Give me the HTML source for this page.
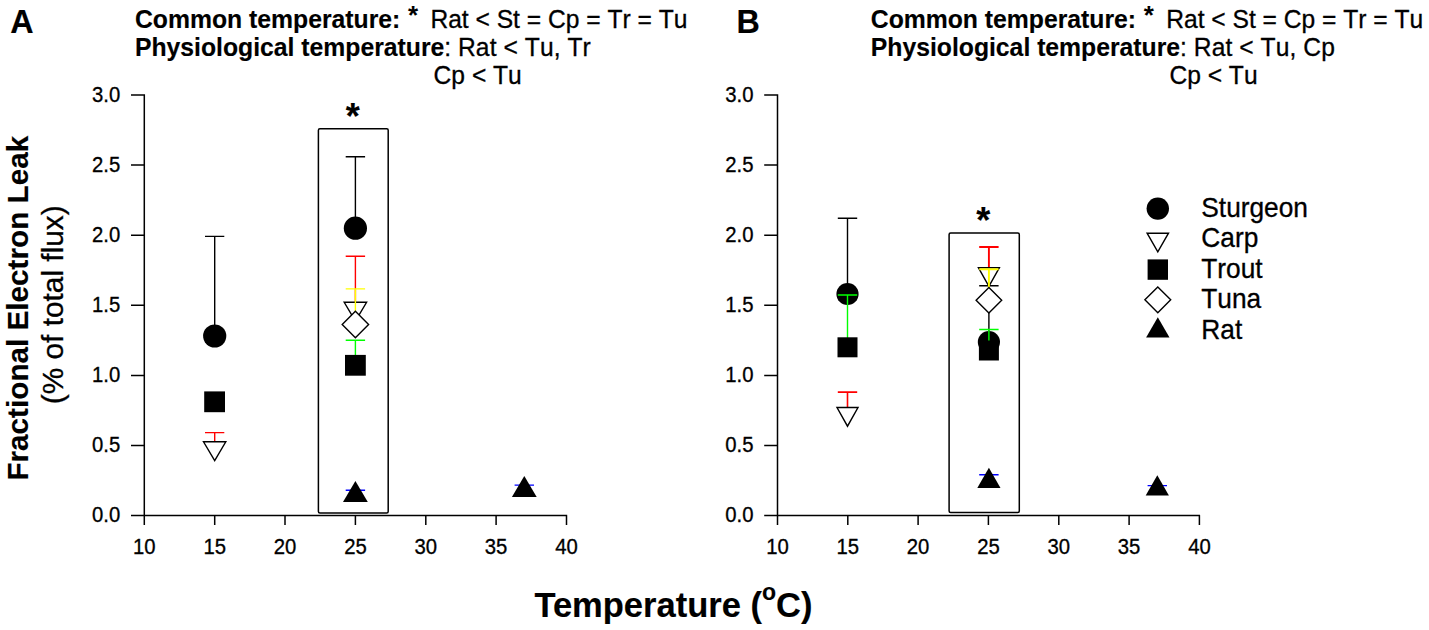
<!DOCTYPE html>
<html lang="en"><head><meta charset="utf-8"><title>Fractional Electron Leak vs Temperature</title>
<style>
html,body{margin:0;padding:0;background:#fff;}
body{width:1429px;height:630px;overflow:hidden;}
svg{display:block;font-family:"Liberation Sans", sans-serif;fill:#000;}
svg text{white-space:pre;font-kerning:none;stroke:#000;stroke-width:0.3px;}
.b,.b tspan{stroke-width:0.15px;}
.b{font-weight:bold;}
</style></head><body>
<svg width="1429" height="630" viewBox="0 0 1429 630">
<rect width="1429" height="630" fill="#fff"/>
<!-- panel headers -->
<text class="b" transform="translate(10.3 32.8)" font-size="32.3">A</text>
<text class="b" transform="translate(135.0 27.6) scale(1 1.03)" font-size="24.75">Common temperature:</text>
<text class="b" style="stroke-width:0" transform="translate(407.9 24.3)" font-size="26">*</text>
<text transform="translate(430.4 27.6) scale(1 1.05)" font-size="24.6">Rat &lt; St = Cp = Tr = Tu</text>
<text class="b" transform="translate(135.0 56.1) scale(1 1.03)" font-size="24.75">Physiological temperature</text>
<text style="letter-spacing:0.08px" transform="translate(444.2 56.1) scale(1 1.05)" font-size="24.6">: Rat &lt; Tu, Tr</text>
<text transform="translate(433.6 83.5) scale(1 1.05)" font-size="24.6">Cp &lt; Tu</text>
<text class="b" transform="translate(736.4 32.8)" font-size="32.3">B</text>
<text class="b" transform="translate(870.8 27.6) scale(1 1.03)" font-size="24.75">Common temperature:</text>
<text class="b" style="stroke-width:0" transform="translate(1143.7 24.3)" font-size="26">*</text>
<text transform="translate(1166.2 27.6) scale(1 1.05)" font-size="24.6">Rat &lt; St = Cp = Tr = Tu</text>
<text class="b" transform="translate(870.8 56.1) scale(1 1.03)" font-size="24.75">Physiological temperature</text>
<text style="letter-spacing:0.08px" transform="translate(1180.0 56.1) scale(1 1.05)" font-size="24.6">: Rat &lt; Tu, Cp</text>
<text transform="translate(1169.4 83.5) scale(1 1.05)" font-size="24.6">Cp &lt; Tu</text>
<!-- axis labels -->
<text class="b" transform="translate(28.1 480.6) rotate(-90)" font-size="29.7">Fractional Electron Leak</text>
<text transform="translate(63.2 404.3) rotate(-90)" font-size="29.85">(% of total flux)</text>
<text class="b" style="font-kerning:normal" x="534.4" y="616.7" font-size="34.5">Temperature (<tspan font-size="23" dy="-17">o</tspan><tspan dy="17">C)</tspan></text>
<!-- panel A -->
<path d="M144.3 94.3V515.5M131.0 515.5H567.2M131.0 445.4H144.3M131.0 375.4H144.3M131.0 305.3H144.3M131.0 235.2H144.3M131.0 165.1H144.3M131.0 95.0H144.3M144.3 515.5V525.1M214.7 515.5V525.1M285.0 515.5V525.1M355.4 515.5V525.1M425.8 515.5V525.1M496.1 515.5V525.1M566.5 515.5V525.1" stroke="#000" stroke-width="1.5" fill="none"/>
<text transform="translate(120.3 522.3) scale(1 1.08)" font-size="20.3" text-anchor="end">0.0</text>
<text transform="translate(120.3 452.2) scale(1 1.08)" font-size="20.3" text-anchor="end">0.5</text>
<text transform="translate(120.3 382.2) scale(1 1.08)" font-size="20.3" text-anchor="end">1.0</text>
<text transform="translate(120.3 312.1) scale(1 1.08)" font-size="20.3" text-anchor="end">1.5</text>
<text transform="translate(120.3 242.0) scale(1 1.08)" font-size="20.3" text-anchor="end">2.0</text>
<text transform="translate(120.3 171.9) scale(1 1.08)" font-size="20.3" text-anchor="end">2.5</text>
<text transform="translate(120.3 101.8) scale(1 1.08)" font-size="20.3" text-anchor="end">3.0</text>
<text transform="translate(144.3 553.8) scale(1 1.08)" font-size="20.3" text-anchor="middle">10</text>
<text transform="translate(214.7 553.8) scale(1 1.08)" font-size="20.3" text-anchor="middle">15</text>
<text transform="translate(285.0 553.8) scale(1 1.08)" font-size="20.3" text-anchor="middle">20</text>
<text transform="translate(355.4 553.8) scale(1 1.08)" font-size="20.3" text-anchor="middle">25</text>
<text transform="translate(425.8 553.8) scale(1 1.08)" font-size="20.3" text-anchor="middle">30</text>
<text transform="translate(496.1 553.8) scale(1 1.08)" font-size="20.3" text-anchor="middle">35</text>
<text transform="translate(566.5 553.8) scale(1 1.08)" font-size="20.3" text-anchor="middle">40</text>
<rect x="318.4" y="128.7" width="69.8" height="384.3" rx="1.5" fill="none" stroke="#000" stroke-width="1.5"/>
<text class="b" transform="translate(345.7 128.9)" font-size="36">*</text>
<path d="M205.0 236.4H224.3M214.7 236.4V336.0" stroke="#000" stroke-width="1.4" fill="none"/>
<circle cx="214.7" cy="336.0" r="11.6" fill="#000"/>
<path d="M205.0 432.6H224.3M214.7 432.6V451.5" stroke="#f00" stroke-width="1.4" fill="none"/>
<path d="M203.5 441.8H225.8L214.7 460.7Z" fill="#fff" stroke="#000" stroke-width="1.4" stroke-linejoin="miter"/>
<rect x="204.2" y="391.4" width="20.8" height="20.8" fill="#000"/>
<path d="M345.7 156.8H365.1M355.4 156.8V228.2" stroke="#000" stroke-width="1.4" fill="none"/>
<circle cx="355.4" cy="228.2" r="11.6" fill="#000"/>
<path d="M345.7 256.2H365.1M355.4 256.2V312.3" stroke="#f00" stroke-width="1.4" fill="none"/>
<path d="M344.2 302.3H366.6L355.4 321.2Z" fill="#fff" stroke="#000" stroke-width="1.4" stroke-linejoin="miter"/>
<path d="M345.7 340.3H365.1M355.4 340.3V365.3" stroke="#0f0" stroke-width="1.4" fill="none"/>
<rect x="345.0" y="354.9" width="20.8" height="20.8" fill="#000"/>
<path d="M345.7 288.9H365.1M355.4 288.9V324.5" stroke="#ff0" stroke-width="1.4" fill="none"/>
<path d="M342.2 324.5L355.4 311.3L368.6 324.5L355.4 337.7Z" fill="#fff" stroke="#000" stroke-width="1.4" stroke-linejoin="miter"/>
<path d="M345.7 490.3H365.1M355.4 490.3V491.3" stroke="#00f" stroke-width="1.4" fill="none"/>
<path d="M343.0 501.9H367.8L355.4 481.0Z" fill="#000"/>
<path d="M514.6 485.1H534.0M524.3 485.1V486.4" stroke="#00f" stroke-width="1.4" fill="none"/>
<path d="M511.9 497.0H536.7L524.3 476.1Z" fill="#000"/>
<!-- panel B -->
<path d="M777.5 94.3V515.5M764.2 515.5H1200.1M764.2 445.4H777.5M764.2 375.4H777.5M764.2 305.3H777.5M764.2 235.2H777.5M764.2 165.1H777.5M764.2 95.0H777.5M777.5 515.5V525.1M847.8 515.5V525.1M918.1 515.5V525.1M988.4 515.5V525.1M1058.8 515.5V525.1M1129.1 515.5V525.1M1199.4 515.5V525.1" stroke="#000" stroke-width="1.5" fill="none"/>
<text transform="translate(753.5 522.3) scale(1 1.08)" font-size="20.3" text-anchor="end">0.0</text>
<text transform="translate(753.5 452.2) scale(1 1.08)" font-size="20.3" text-anchor="end">0.5</text>
<text transform="translate(753.5 382.2) scale(1 1.08)" font-size="20.3" text-anchor="end">1.0</text>
<text transform="translate(753.5 312.1) scale(1 1.08)" font-size="20.3" text-anchor="end">1.5</text>
<text transform="translate(753.5 242.0) scale(1 1.08)" font-size="20.3" text-anchor="end">2.0</text>
<text transform="translate(753.5 171.9) scale(1 1.08)" font-size="20.3" text-anchor="end">2.5</text>
<text transform="translate(753.5 101.8) scale(1 1.08)" font-size="20.3" text-anchor="end">3.0</text>
<text transform="translate(777.5 553.8) scale(1 1.08)" font-size="20.3" text-anchor="middle">10</text>
<text transform="translate(847.8 553.8) scale(1 1.08)" font-size="20.3" text-anchor="middle">15</text>
<text transform="translate(918.1 553.8) scale(1 1.08)" font-size="20.3" text-anchor="middle">20</text>
<text transform="translate(988.4 553.8) scale(1 1.08)" font-size="20.3" text-anchor="middle">25</text>
<text transform="translate(1058.8 553.8) scale(1 1.08)" font-size="20.3" text-anchor="middle">30</text>
<text transform="translate(1129.1 553.8) scale(1 1.08)" font-size="20.3" text-anchor="middle">35</text>
<text transform="translate(1199.4 553.8) scale(1 1.08)" font-size="20.3" text-anchor="middle">40</text>
<rect x="949.1" y="232.9" width="70.2" height="279.7" rx="1.5" fill="none" stroke="#000" stroke-width="1.5"/>
<text class="b" transform="translate(976.2 232.5)" font-size="36">*</text>
<path d="M837.8 218.3H857.2M847.5 218.3V294.0" stroke="#000" stroke-width="1.4" fill="none"/>
<circle cx="847.5" cy="294.0" r="11.1" fill="#000"/>
<path d="M837.8 392.1H857.2M847.5 392.1V416.7" stroke="#f00" stroke-width="1.6" fill="none"/>
<path d="M837.0 407.5H858.0L847.5 426.2Z" fill="#fff" stroke="#000" stroke-width="1.4" stroke-linejoin="miter"/>
<path d="M837.8 295.0H857.2M847.5 295.0V347.3" stroke="#0f0" stroke-width="1.4" fill="none"/>
<rect x="837.5" y="337.3" width="20.0" height="20.0" fill="#000"/>
<path d="M979.2 285.8H998.6M988.9 285.8V342.1" stroke="#000" stroke-width="1.4" fill="none"/>
<circle cx="988.9" cy="342.1" r="11.1" fill="#000"/>
<path d="M979.2 247.0H998.6M988.9 247.0V277.5" stroke="#f00" stroke-width="1.9" fill="none"/>
<path d="M978.4 267.7H999.4L988.9 286.4Z" fill="#fff" stroke="#000" stroke-width="1.4" stroke-linejoin="miter"/>
<path d="M979.2 329.5H998.6M988.9 329.5V350.5" stroke="#0f0" stroke-width="1.4" fill="none"/>
<rect x="978.9" y="340.5" width="20.0" height="20.0" fill="#000"/>
<path d="M979.2 269.3H998.6M988.9 269.3V300.2" stroke="#ff0" stroke-width="1.9" fill="none"/>
<path d="M976.1 300.2L988.9 287.4L1001.7 300.2L988.9 313.0Z" fill="#fff" stroke="#000" stroke-width="1.4" stroke-linejoin="miter"/>
<path d="M979.2 474.8H998.6M988.9 474.8V477.8" stroke="#00f" stroke-width="1.4" fill="none"/>
<path d="M977.3 488.0H1000.5L988.9 467.8Z" fill="#000"/>
<path d="M1147.6 485.6H1167.0M1157.3 485.6V485.5" stroke="#00f" stroke-width="1.4" fill="none"/>
<path d="M1145.7 495.5H1168.9L1157.3 475.3Z" fill="#000"/>
<!-- legend -->
<circle cx="1157.8" cy="208.6" r="11.2" fill="#000"/>
<text transform="translate(1201.3 217.4) scale(1 1.02)" font-size="26.3">Sturgeon</text>
<path d="M1147.1 233.2H1168.5L1157.8 251.9Z" fill="#fff" stroke="#000" stroke-width="1.4" stroke-linejoin="miter"/>
<text transform="translate(1201.3 247.2) scale(1 1.02)" font-size="26.3">Carp</text>
<rect x="1147.6" y="259.4" width="20.4" height="20.4" fill="#000"/>
<text transform="translate(1201.3 277.8) scale(1 1.02)" font-size="26.3">Trout</text>
<path d="M1144.9 299.8L1157.8 286.9L1170.7 299.8L1157.8 312.7Z" fill="#fff" stroke="#000" stroke-width="1.4" stroke-linejoin="miter"/>
<text transform="translate(1201.3 308.3) scale(1 1.02)" font-size="26.3">Tuna</text>
<path d="M1146.1 337.6H1169.5L1157.8 317.2Z" fill="#000"/>
<text transform="translate(1201.3 338.8) scale(1 1.02)" font-size="26.3">Rat</text>
</svg>
</body></html>
